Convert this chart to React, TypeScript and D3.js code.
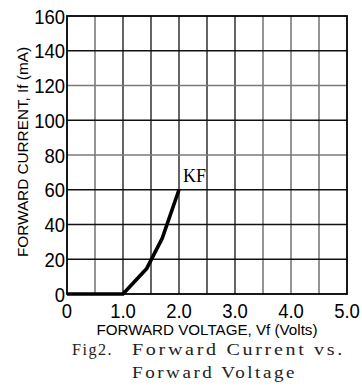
import React from "react";
import * as d3 from "d3";

const xTicks = [0, 1, 2, 3, 4, 5];
const xTickLabels = ["0", "1.0", "2.0", "3.0", "4.0", "5.0"];
const yTicks = [0, 20, 40, 60, 80, 100, 120, 140, 160];
const xGrid = [0.5, 1, 1.5, 2, 2.5, 3, 3.5, 4, 4.5];
const xGridGray = [0.5, 3.5, 4, 4.5];
const yGrid = [20, 40, 60, 80, 100, 120, 140];
const yGridGray = [80, 120];
const voltage = [0, 1.0, 1.42, 1.7, 2.0];
const current = [0, 0, 14.5, 32, 60];
const seriesLabel = "KF";

export default function App() {
  const W = 362, H = 386;
  const L = 67, R = 347, T = 16, B = 294;
  const x = d3.scaleLinear().domain([0, 5]).range([L, R]);
  const y = d3.scaleLinear().domain([0, 160]).range([B, T]);
  const pts = voltage.map((v, i) => [v, current[i]] as [number, number]);
  const line = d3.line<[number, number]>().x(d => x(d[0])).y(d => y(d[1]));
  const sans = "'Liberation Sans', Arial, sans-serif";
  const serif = "'Liberation Serif', 'Times New Roman', serif";
  const last = pts[pts.length - 1];
  return (
    <svg width={W} height={H} style={{ position: "absolute", left: 0, top: 0 }}>
      <rect width={W} height={H} fill="#fff" />
      {xGrid.map(g => (
        <line key={"vx" + g} x1={x(g)} x2={x(g)} y1={T} y2={B}
          stroke={xGridGray.includes(g) ? "#7a7a7a" : "#111"} strokeWidth={xGridGray.includes(g) ? 1.6 : 1.3} />
      ))}
      {yGrid.map(g => (
        <line key={"hy" + g} x1={L} x2={R} y1={y(g)} y2={y(g)}
          stroke={yGridGray.includes(g) ? "#7a7a7a" : "#111"} strokeWidth={yGridGray.includes(g) ? 1.6 : 1.3} />
      ))}
      <rect x={L} y={T} width={R - L} height={B - T} fill="none" stroke="#000" strokeWidth={1.8} />
      <path d={line(pts) || ""} fill="none" stroke="#000" strokeWidth={3.6} strokeLinejoin="round" />
      <text x={x(last[0]) + 4} y={y(last[1]) - 8} fontFamily={serif} fontSize={18} fill="#000">{seriesLabel}</text>
      {yTicks.map(t => (
        <text key={"yt" + t} x={0} y={0} transform={`translate(${L - 2},${y(t) + 7.5}) scale(0.88,1)`}
          textAnchor="end" fontFamily={sans} fontSize={21} fill="#000">{t}</text>
      ))}
      {xTicks.map((t, i) => (
        <text key={"xt" + t} x={0} y={0} transform={`translate(${x(t)},${B + 24}) scale(0.88,1)`}
          textAnchor="middle" fontFamily={sans} fontSize={21} fill="#000">{xTickLabels[i]}</text>
      ))}
      <text x={207} y={335} textAnchor="middle" fontFamily={sans} fontSize={15}
        textLength={221} lengthAdjust="spacingAndGlyphs" fill="#000">FORWARD VOLTAGE, Vf (Volts)</text>
      <text x={0} y={0} transform="translate(28,152) rotate(-90)" textAnchor="middle" fontFamily={sans}
        fontSize={14.5} textLength={210} lengthAdjust="spacingAndGlyphs" fill="#000">FORWARD CURRENT, If (mA)</text>
      <text x={72} y={355} fontFamily={serif} fontSize={16.5} letterSpacing={1.5}
        textLength={41} lengthAdjust="spacingAndGlyphs" fill="#222">Fig2.</text>
      <text x={132} y={355} fontFamily={serif} fontSize={16.5} letterSpacing={2.2}
        textLength={213} lengthAdjust="spacingAndGlyphs" fill="#222">Forward Current vs.</text>
      <text x={132} y={378} fontFamily={serif} fontSize={16.5} letterSpacing={2.2}
        textLength={165} lengthAdjust="spacingAndGlyphs" fill="#222">Forward Voltage</text>
    </svg>
  );
}
